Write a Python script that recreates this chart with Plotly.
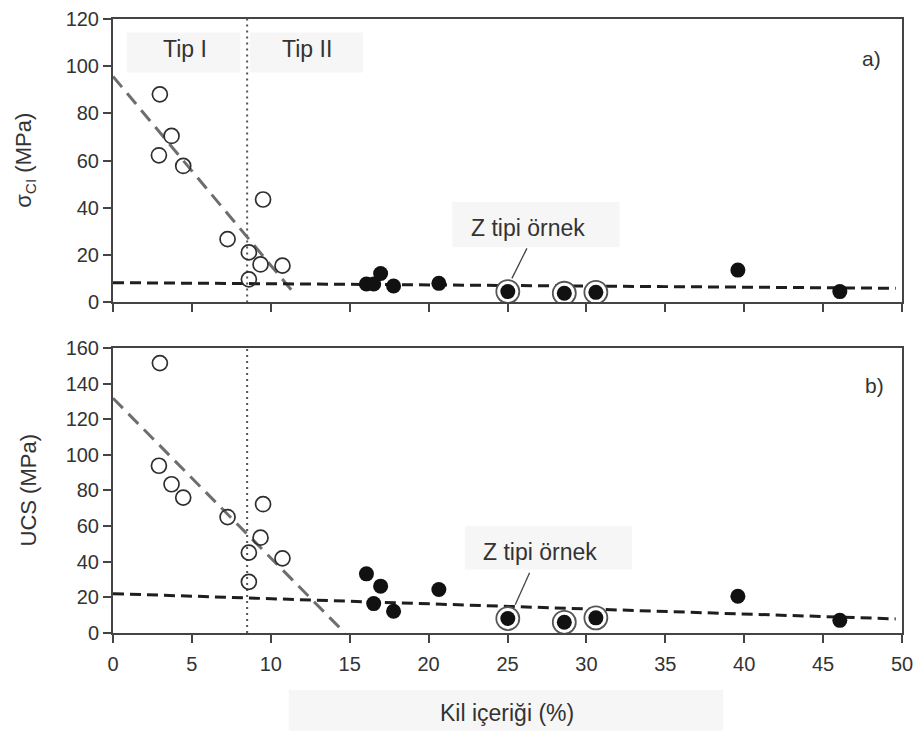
import numpy as np
import plotly.graph_objects as go

# Clay content (%) of the samples
clay_open = [2.97, 3.71, 2.91, 4.45, 9.51, 7.26, 8.61, 9.35, 10.74, 8.61]
clay_filled = [16.06, 16.52, 16.96, 17.78, 20.65, 39.6, 46.06]
clay_z = [25.02, 28.6, 30.6]

# Point load derived strength sigma_CI (MPa)
sci_open = [88.1, 70.5, 62.3, 57.8, 43.6, 26.8, 21.2, 16.1, 15.6, 9.8]
sci_filled = [7.8, 7.8, 12.3, 7.0, 8.1, 13.7, 4.6]
sci_z = [4.6, 3.9, 4.3]

# Uniaxial compressive strength UCS (MPa)
ucs_open = [151.5, 83.5, 93.9, 76.0, 72.3, 65.1, 45.1, 53.5, 41.9, 28.7]
ucs_filled = [33.2, 16.5, 26.3, 12.2, 24.4, 20.6, 7.1]
ucs_z = [8.1, 6.0, 8.5]

# Linear trends: (intercept, slope, x_start, x_end)
fit_sci_type1 = (95.7, -8.0, 0.0, 11.6)
fit_sci_type2 = (8.4, -0.048, 0.0, 49.6)
fit_ucs_type1 = (131.8, -8.97, 0.0, 14.7)
fit_ucs_type2 = (22.1, -0.286, 0.0, 49.6)

type_boundary = 8.5
x_ticks = [0, 5, 10, 15, 20, 25, 30, 35, 40, 45, 50]
sci_ticks = [0, 20, 40, 60, 80, 100, 120]
ucs_ticks = [0, 20, 40, 60, 80, 100, 120, 140, 160]

FONT = "Liberation Sans, Arial, sans-serif"
TXT = "#333333"
AX = "#444444"

fig = go.Figure()


def line_pts(fit):
    b0, b1, xa, xb = fit
    xs = np.array([xa, xb])
    return xs, b0 + b1 * xs


def add_panel(xax, yax, y_open, y_filled, y_z, fit1, fit2, ymax):
    # boundary between Tip I and Tip II
    fig.add_trace(go.Scatter(x=[type_boundary, type_boundary], y=[0, ymax], mode="lines",
                             line=dict(color="#555555", width=2, dash="2px,4px"),
                             xaxis=xax, yaxis=yax, hoverinfo="skip"))
    xs, ys = line_pts(fit1)
    fig.add_trace(go.Scatter(x=xs, y=ys, mode="lines",
                             line=dict(color="#6e6e6e", width=3, dash="14px,8px"),
                             xaxis=xax, yaxis=yax, hoverinfo="skip"))
    xs, ys = line_pts(fit2)
    fig.add_trace(go.Scatter(x=xs, y=ys, mode="lines",
                             line=dict(color="#1e1e1e", width=3, dash="11px,6px"),
                             xaxis=xax, yaxis=yax, hoverinfo="skip"))
    fig.add_trace(go.Scatter(x=clay_open, y=y_open, mode="markers",
                             marker=dict(symbol="circle-open", size=15, color="#2e2e2e",
                                         line=dict(width=1.7, color="#2e2e2e")),
                             xaxis=xax, yaxis=yax))
    fig.add_trace(go.Scatter(x=clay_filled, y=y_filled, mode="markers",
                             marker=dict(symbol="circle", size=15, color="#111111"),
                             xaxis=xax, yaxis=yax))
    # Z-type samples: ringed solid dots
    fig.add_trace(go.Scatter(x=clay_z, y=y_z, mode="markers",
                             marker=dict(symbol="circle", size=23, color="white",
                                         line=dict(width=1.8, color="#555555")),
                             xaxis=xax, yaxis=yax))
    fig.add_trace(go.Scatter(x=clay_z, y=y_z, mode="markers",
                             marker=dict(symbol="circle", size=15, color="#111111"),
                             xaxis=xax, yaxis=yax))


add_panel("x", "y", sci_open, sci_filled, sci_z, fit_sci_type1, fit_sci_type2, 120)
add_panel("x2", "y2", ucs_open, ucs_filled, ucs_z, fit_ucs_type1, fit_ucs_type2, 160)

axis_common = dict(showline=True, linecolor=AX, linewidth=2, mirror=True,
                   ticks="outside", ticklen=8, tickwidth=1.6, tickcolor=AX,
                   showgrid=False, zeroline=False, automargin=False,
                   tickfont=dict(family=FONT, size=20, color=TXT))

fig.update_layout(
    width=914, height=731,
    margin=dict(l=113, r=12, t=19, b=98),
    paper_bgcolor="white", plot_bgcolor="white",
    showlegend=False,
    xaxis=dict(range=[0, 50], tickvals=x_ticks, showticklabels=False,
               anchor="y", domain=[0, 1], **axis_common),
    yaxis=dict(range=[0, 120], tickvals=sci_ticks, domain=[0.5383, 1.0],
               anchor="x", **axis_common),
    xaxis2=dict(range=[0, 50], tickvals=x_ticks, anchor="y2", domain=[0, 1],
                ticklabelstandoff=4, **axis_common),
    yaxis2=dict(range=[0, 160], tickvals=ucs_ticks, domain=[0.0, 0.4642],
                anchor="x2", **axis_common),
)

BOX = "#f6f6f6"
# label background boxes: (xref, yref, x0, x1, y0, y1)
boxes = [
    ("x", "y", 0.87, 8.07, 97.4, 114.3),
    ("x", "y", 8.67, 15.84, 97.4, 114.3),
    ("x", "y", 21.5, 32.1, 23.4, 42.5),
    ("x2", "y2", 22.3, 32.9, 35.7, 59.9),
]
for xr, yr, x0, x1, y0, y1 in boxes:
    fig.add_shape(type="rect", xref=xr, yref=yr, x0=x0, x1=x1, y0=y0, y1=y1,
                  fillcolor=BOX, line=dict(width=0), layer="below")
fig.add_shape(type="rect", xref="paper", yref="paper", x0=0.2227, x1=0.7735,
              y0=-0.159, y1=-0.093, fillcolor=BOX, line=dict(width=0), layer="below")

# leader lines to the Z-type sample
fig.add_shape(type="line", xref="x", yref="y", x0=26.23, y0=22.9, x1=25.28, y1=10.2,
              line=dict(color="#444444", width=1.3))
fig.add_shape(type="line", xref="x2", yref="y2", x0=26.4, y0=33.8, x1=25.49, y1=15.9,
              line=dict(color="#444444", width=1.3))

ann = []
big = dict(family=FONT, size=23, color=TXT)
ann.append(dict(text="Tip I", x=4.55, y=107.5, xref="x", yref="y", showarrow=False, font=big))
ann.append(dict(text="Tip II", x=12.3, y=107.5, xref="x", yref="y", showarrow=False, font=big))
ann.append(dict(text="Z tipi örnek", x=26.28, y=31.5, xref="x", yref="y", showarrow=False, font=big))
ann.append(dict(text="Z tipi örnek", x=27.07, y=45.2, xref="x2", yref="y2", showarrow=False, font=big))
ann.append(dict(text="a)", x=0.9755, y=0.908, xref="x domain", yref="y domain",
                showarrow=False, font=dict(family=FONT, size=21, color=TXT)))
ann.append(dict(text="b)", x=0.9797, y=0.917, xref="x2 domain", yref="y2 domain",
                showarrow=False, font=dict(family=FONT, size=21, color=TXT)))
ann.append(dict(text="σ<sub>CI</sub> (MPa)", x=0, y=0.5, xref="paper", yref="y domain",
                xanchor="center", yanchor="middle", xshift=-88, textangle=-90,
                showarrow=False, font=dict(family=FONT, size=22, color=TXT)))
ann.append(dict(text="UCS (MPa)", x=0, y=0.5, xref="paper", yref="y2 domain",
                xanchor="center", yanchor="middle", xshift=-85, textangle=-90,
                showarrow=False, font=dict(family=FONT, size=22, color=TXT)))
ann.append(dict(text="Kil içeriği (%)", x=0.4993, y=-0.1295, xref="paper", yref="paper",
                xanchor="center", yanchor="middle",
                showarrow=False, font=dict(family=FONT, size=23, color=TXT)))
fig.update_layout(annotations=ann)

fig.write_html("out.html")
